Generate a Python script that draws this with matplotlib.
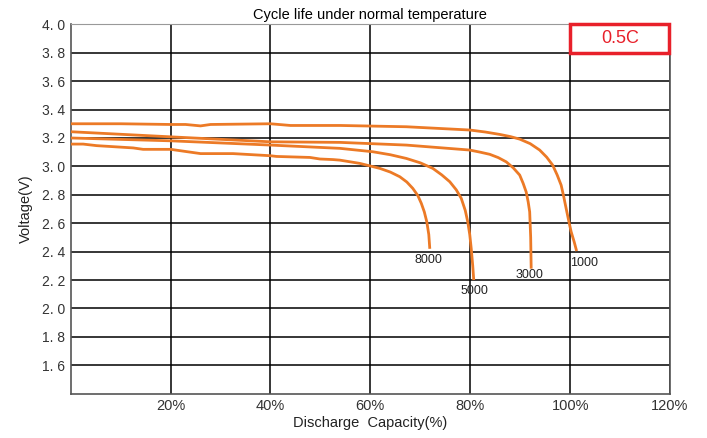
import numpy as np
import matplotlib.pyplot as plt

plt.rcParams['font.family'] = ['Liberation Sans', 'DejaVu Sans']

# discharge curves: capacity (%) -> voltage (V)
cap_1000 = [0, 10, 20, 23, 26, 28, 40, 44, 54, 67.2, 79.9, 83, 85.9, 88, 89.9, 92, 93.9, 95.3, 96.5,
            97.4, 98.2, 98.7, 99.2, 99.7, 100.2, 100.8, 101.3]
volt_1000 = [3.30, 3.30, 3.295, 3.295, 3.285, 3.295, 3.30, 3.288, 3.288, 3.279, 3.256, 3.242, 3.225, 3.21,
             3.192, 3.16, 3.115, 3.065, 3.009, 2.94, 2.868, 2.79, 2.704, 2.62, 2.54, 2.47, 2.404]

cap_3000 = [0, 20, 40, 53.9, 67.2, 79.9, 82, 83.9, 85.6, 87.2, 88.6, 89.9, 90.6, 91.2, 91.6, 91.9, 92.1, 92.2]
volt_3000 = [3.244, 3.208, 3.173, 3.169, 3.15, 3.115, 3.10, 3.085, 3.062, 3.032, 2.99, 2.939, 2.88, 2.82,
             2.75, 2.68, 2.50, 2.28]

cap_5000 = [0, 20, 40, 53.9, 60.5, 64, 67.2, 70, 72.5, 74.3, 75.9, 77.2, 78.2, 79, 79.5, 79.9, 80.2, 80.5, 80.7]
volt_5000 = [3.20, 3.18, 3.15, 3.127, 3.103, 3.082, 3.056, 3.025, 2.986, 2.94, 2.892, 2.835, 2.775, 2.69,
             2.61, 2.52, 2.42, 2.30, 2.20]

cap_8000 = [0, 2.5, 5.2, 12.5, 14.5, 20, 26, 32.5, 40, 41.2, 47.9, 49.9, 52.5, 53.9, 57.9,
            61.9, 64, 65.9, 67.3, 68.5, 69.5, 70.2, 70.8, 71.3, 71.7, 71.9]
volt_8000 = [3.157, 3.157, 3.146, 3.13, 3.12, 3.12, 3.09, 3.09, 3.075, 3.07, 3.063, 3.052, 3.048, 3.044, 3.021,
             2.986, 2.96, 2.927, 2.89, 2.845, 2.795, 2.74, 2.68, 2.61, 2.52, 2.42]

curves = [
    ('1000', cap_1000, volt_1000, (102.7, 2.32)),
    ('3000', cap_3000, volt_3000, (91.9, 2.235)),
    ('5000', cap_5000, volt_5000, (80.9, 2.12)),
    ('8000', cap_8000, volt_8000, (71.7, 2.34)),
]

x_ticks = [20, 40, 60, 80, 100, 120]
x_labels = ['20%', '40%', '60%', '80%', '100%', '120%']
y_ticks = [1.6, 1.8, 2.0, 2.2, 2.4, 2.6, 2.8, 3.0, 3.2, 3.4, 3.6, 3.8, 4.0]
y_labels = [('%.1f' % v).replace('.', '. ') for v in y_ticks]

fig = plt.figure(figsize=(7.07, 4.38), dpi=100)
ax = fig.add_axes([0.1, 0.1011, 0.8477, 0.8434])

ax.set_xlim(0, 120)
ax.set_ylim(1.4, 4.0)
ax.set_xticks(x_ticks)
ax.set_xticklabels(x_labels, fontsize=10.5, color='#333333')
ax.set_yticks(y_ticks)
ax.set_yticklabels(y_labels, fontsize=10, color='#333333')
ax.tick_params(length=0, pad=4)
ax.grid(True, color='black', linewidth=1.1)
ax.set_axisbelow(True)
for s in ax.spines.values():
    s.set_color('#555555')
    s.set_linewidth(1.2)
ax.spines['top'].set_color('#999999')
ax.spines['top'].set_linewidth(0.8)

for name, xs, ys, (tx, ty) in curves:
    ax.plot(xs, ys, color='#EC7A26', linewidth=2.0, solid_capstyle='butt',
            solid_joinstyle='round', zorder=3)
    ax.text(tx, ty, name, fontsize=9, color='#222222', ha='center', va='center', zorder=4)

ax.set_title('Cycle life under normal temperature', fontsize=10.5, pad=4)
ax.set_xlabel('Discharge  Capacity(%)', fontsize=10.5, color='#222222', labelpad=2)
ax.set_ylabel('Voltage(V)', fontsize=10.5, color='#222222', labelpad=6)

# red "0.5C" box in the top right cell
ax.add_patch(plt.Rectangle((99.9, 3.8), 19.9, 0.2, fill=False, edgecolor='#E8202A',
                           linewidth=2.5, zorder=5, clip_on=False))
ax.text(110, 3.9, '0.5C', fontsize=13, color='#E8202A', ha='center', va='center', zorder=5)

fig.savefig('out.png', dpi=100)
